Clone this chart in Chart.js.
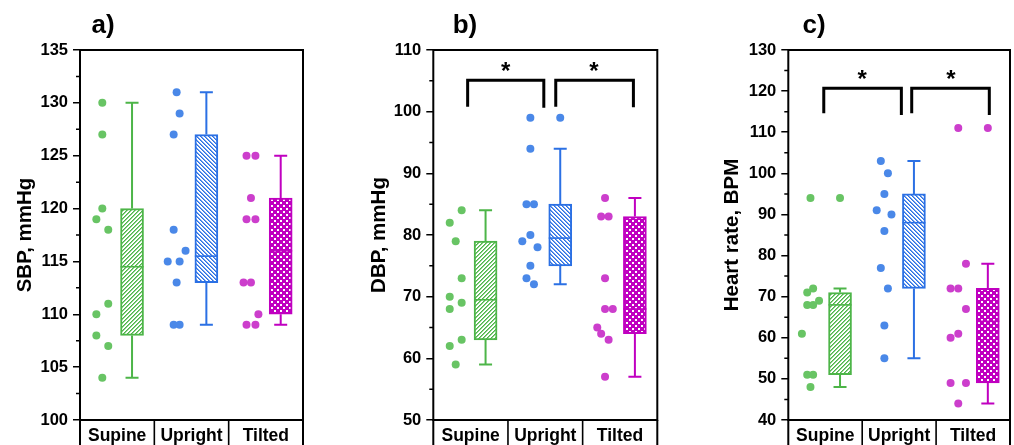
<!DOCTYPE html>
<html><head><meta charset="utf-8">
<script src="https://cdn.jsdelivr.net/npm/chart.js@4"></script>
<style>
html,body{margin:0;padding:0;background:#fff;overflow:hidden}
#wrap{position:relative;width:1014px;height:445px;background:#fff}
canvas{position:absolute;top:0}
</style></head><body>
<div id="wrap">
<canvas id="ca" width="340" height="445" style="left:0px;width:340px;height:445px"></canvas>
<canvas id="cb" width="340" height="445" style="left:340px;width:340px;height:445px"></canvas>
<canvas id="cc" width="334" height="445" style="left:680px;width:334px;height:445px"></canvas>
</div>
<script>
// ---------------- DATA ----------------
const categories = ['Supine', 'Upright', 'Tilted'];

// a) SBP, mmHg
const sbpSupine  = [130, 127, 120, 119, 118, 111, 110, 108, 107, 104];
const sbpUpright = [131, 129, 127, 118, 116, 115, 115, 113, 109, 109];
const sbpTilted  = [125, 125, 121, 119, 119, 113, 113, 110, 109, 109];
const sbpSupineJit  = [0, 0, 0, -2, 2, 2, -2, -2, 2, 0];
const sbpUprightJit = [0, 1, -1, -1, 3, -3, 1, 0, -1, 1];
const sbpTiltedJit  = [-1.5, 1.5, 0, -1.5, 1.5, -2.5, 0, 2.5, -1.5, 1.5];
const sbpLow    = [104, 109, 109];
const sbpQ1     = [108, 113, 110];
const sbpMedian = [114.5, 115.5, 116];
const sbpQ3     = [120, 127, 121];
const sbpHigh   = [130, 131, 125];
const sbpOutliers = [[], [], []];
const sbpTicks = [100, 135, 5];

// b) DBP, mmHg
const dbpSupine  = [84, 82, 79, 73, 70, 69, 68, 63, 62, 59];
const dbpUpright = [99, 94, 85, 85, 80, 79, 78, 75, 73, 72];
const dbpTilted  = [86, 83, 83, 73, 68, 68, 65, 64, 63, 57];
const dbpSupineJit  = [2, -2, 0, 2, -2, 2, -2, 2, -2, 0];
const dbpUprightJit = [0, 0, -1.3, 1.2, 0, -2.7, 2.4, 0, -1.3, 1.2];
const dbpTiltedJit  = [0, -1.3, 1.2, 0, 0, 2.6, -2.6, -1.3, 1.2, 0];
const dbpLow    = [59, 72, 57];
const dbpQ1     = [63, 75, 64];
const dbpMedian = [69.5, 79.5, 68];
const dbpQ3     = [79, 85, 83];
const dbpHigh   = [84, 94, 86];
const dbpOutliers = [[], [99], []];
const dbpTicks = [50, 110, 10];
// brackets: [xStart, xEnd, yTop, yLegStart, yLegEnd, xStar]
const dbpBrackets = [[0.96, 1.98, 105.1, 100.8, 100.65, 1.47], [2.14, 3.18, 105.1, 100.8, 100.7, 2.65]];

// c) Heart rate, BPM
const hrSupine  = [94, 72, 71, 69, 68, 68, 61, 51, 51, 48];
const hrUpright = [103, 100, 95, 91, 90, 86, 77, 72, 63, 55];
const hrTilted  = [111, 78, 72, 72, 67, 61, 60, 49, 49, 44];
const hrSupineJit  = [0, 0.9, -1.1, 2.9, -1.1, 0.9, -2.9, -1.1, 0.9, 0];
const hrUprightJit = [-1.2, 1.2, 0, -2.6, 2.4, 0, -1.2, 1.2, 0, 0];
const hrTiltedJit  = [0, 2.6, -2.6, 0, 2.6, 0, -2.6, -2.6, 2.6, 0];
const hrLow    = [48, 55, 44];
const hrQ1     = [51, 72, 49];
const hrMedian = [68, 88, 64];
const hrQ3     = [71, 95, 72];
const hrHigh   = [72, 103, 78];
const hrOutliers = [[94], [], [111]];
const hrTicks = [40, 130, 10];
const hrBrackets = [[0.98, 2.03, 120.7, 114.6, 114.2, 1.50], [2.17, 3.22, 120.7, 114.6, 114.2, 2.70]];

// ---------------- STYLE ----------------
const FONT = '"Liberation Sans", Arial, Helvetica, sans-serif';
const boxColors = ['rgb(77,181,72)', 'rgb(43,112,228)', 'rgb(192,0,192)'];
const dotColors = ['rgb(104,196,100)', 'rgb(74,136,232)', 'rgb(204,62,204)'];
const patternKinds = ['fwd', 'back', 'check'];
const PT_OFF = -0.2, BOX_OFF = 0.2, JIT = 0.04, BOX_W = 23;

function makePattern(ctx, kind, color) {
  const s = kind === 'check' ? 6 : 4;
  const c = document.createElement('canvas');
  c.width = s; c.height = s;
  const g = c.getContext('2d');
  g.fillStyle = '#fff'; g.fillRect(0, 0, s, s);
  g.fillStyle = color;
  if (kind === 'check') {
    g.fillRect(0, 0, s, s);
    g.fillStyle = '#fff';
    g.fillRect(1, 1, 2, 2);
    g.fillRect(4, 4, 2, 2);
  } else {
    for (let y = 0; y < s; y++) for (let x = 0; x < s; x++) {
      const d = kind === 'fwd' ? (x + y) % s : ((x - y) % s + s) % s;
      if (d === 0) { g.globalAlpha = 1; g.fillRect(x, y, 1, 1); }
      else if (d === 1) { g.globalAlpha = 0.65; g.fillRect(x, y, 1, 1); }
    }
  }
  return ctx.createPattern(c, 'repeat');
}

function makePanel(p) {
  const canvas = document.getElementById(p.id);
  const ctx0 = canvas.getContext('2d');
  const patterns = patternKinds.map((k, i) => makePattern(ctx0, k, boxColors[i]));
  const [yMin, yMax, step] = p.ticks;

  const datasets = [];
  datasets.push({
    type: 'bar',
    data: categories.map((c, i) => ({ x: i + 1 + BOX_OFF, y: [p.q1[i], p.q3[i]] })),
    backgroundColor: patterns,
    borderColor: boxColors,
    borderWidth: 2,
    borderSkipped: false,
    barThickness: BOX_W,
    order: 3
  });
  categories.forEach((c, i) => {
    datasets.push({
      type: 'scatter',
      data: p.groups[i].map((v, j) => ({ x: i + 1 + PT_OFF + p.jit[i][j] * JIT, y: v })),
      backgroundColor: dotColors[i],
      borderWidth: 0,
      pointRadius: 4,
      pointHoverRadius: 4,
      order: 1
    });
    datasets.push({
      type: 'scatter',
      data: p.outliers[i].map(v => ({ x: i + 1 + BOX_OFF, y: v })),
      backgroundColor: dotColors[i],
      borderWidth: 0,
      pointRadius: 4,
      pointHoverRadius: 4,
      order: 1
    });
  });

  const extras = {
    id: 'extras',
    afterDatasetsDraw(chart) {
      const ctx = chart.ctx, xs = chart.scales.x, ys = chart.scales.y;
      ctx.save();
      categories.forEach((c, i) => {
        const cx = xs.getPixelForValue(i + 1 + BOX_OFF);
        ctx.strokeStyle = boxColors[i];
        ctx.lineWidth = 1.6;
        ctx.beginPath();
        ctx.moveTo(cx - BOX_W / 2, ys.getPixelForValue(p.med[i]));
        ctx.lineTo(cx + BOX_W / 2, ys.getPixelForValue(p.med[i]));
        ctx.stroke();
        ctx.lineWidth = 2;
        ctx.beginPath();
        ctx.moveTo(cx, ys.getPixelForValue(p.q3[i]));
        ctx.lineTo(cx, ys.getPixelForValue(p.high[i]));
        ctx.moveTo(cx - 6.5, ys.getPixelForValue(p.high[i]));
        ctx.lineTo(cx + 6.5, ys.getPixelForValue(p.high[i]));
        ctx.moveTo(cx, ys.getPixelForValue(p.q1[i]));
        ctx.lineTo(cx, ys.getPixelForValue(p.low[i]));
        ctx.moveTo(cx - 6.5, ys.getPixelForValue(p.low[i]));
        ctx.lineTo(cx + 6.5, ys.getPixelForValue(p.low[i]));
        ctx.stroke();
      });
      ctx.restore();
    },
    afterDraw(chart) {
      const ctx = chart.ctx, xs = chart.scales.x, ys = chart.scales.y;
      const { left, right, top, bottom } = chart.chartArea;
      const H = chart.height;
      ctx.save();
      ctx.strokeStyle = '#000';
      ctx.lineWidth = 2;
      ctx.strokeRect(left, top, right - left, bottom - top);
      ctx.beginPath();
      ctx.moveTo(left, bottom); ctx.lineTo(left, H);
      ctx.moveTo(right, bottom); ctx.lineTo(right, H);
      ctx.stroke();
      ctx.lineWidth = 1.6;
      ctx.beginPath();
      [1.5, 2.5].forEach(v => {
        const x = xs.getPixelForValue(v);
        ctx.moveTo(x, bottom); ctx.lineTo(x, H);
      });
      ctx.stroke();
      // minor ticks
      ctx.lineWidth = 1.5;
      ctx.beginPath();
      for (let v = yMin + step / 2; v < yMax; v += step) {
        const y = ys.getPixelForValue(v);
        ctx.moveTo(left - 4, y); ctx.lineTo(left, y);
      }
      ctx.stroke();
      // category labels
      ctx.fillStyle = '#000';
      ctx.font = 'bold 17.5px ' + FONT;
      ctx.textAlign = 'center';
      ctx.textBaseline = 'alphabetic';
      categories.forEach((c, i) => ctx.fillText(c, xs.getPixelForValue(i + 1), 441));
      // brackets
      ctx.lineWidth = 3;
      ctx.lineJoin = 'miter';
      ctx.lineCap = 'butt';
      (p.brackets || []).forEach(b => {
        const x1 = xs.getPixelForValue(b[0]), x2 = xs.getPixelForValue(b[1]);
        const yt = ys.getPixelForValue(b[2]);
        ctx.beginPath();
        ctx.moveTo(x1, ys.getPixelForValue(b[3]));
        ctx.lineTo(x1, yt);
        ctx.lineTo(x2, yt);
        ctx.lineTo(x2, ys.getPixelForValue(b[4]));
        ctx.stroke();
        ctx.font = 'bold 24px ' + FONT;
        ctx.textAlign = 'center';
        ctx.textBaseline = 'alphabetic';
        ctx.fillText('*', xs.getPixelForValue(b[5]), yt - 1);
      });
      // panel letter
      ctx.font = 'bold 26px ' + FONT;
      ctx.textAlign = 'center';
      ctx.textBaseline = 'alphabetic';
      ctx.fillText(p.letter, p.letterX, 33);
      // y title
      ctx.translate(p.titleX, (top + bottom) / 2);
      ctx.rotate(-Math.PI / 2);
      ctx.font = 'bold 20.5px ' + FONT;
      ctx.textAlign = 'center';
      ctx.textBaseline = 'middle';
      ctx.fillText(p.yTitle, 0, 0);
      ctx.restore();
    }
  };

  return new Chart(canvas, {
    type: 'scatter',
    data: { datasets },
    options: {
      responsive: false,
      animation: false,
      devicePixelRatio: 1,
      events: [],
      layout: { padding: { left: 0, top: 50, right: p.canvasW - p.plotRight, bottom: 0 } },
      plugins: { legend: { display: false }, tooltip: { enabled: false }, title: { display: false } },
      scales: {
        x: {
          type: 'linear', min: 0.5, max: 3.5, offset: false,
          ticks: { display: false },
          grid: { display: false, offset: false },
          border: { display: false },
          afterFit: s => { s.height = 25; }
        },
        y: {
          type: 'linear', min: yMin, max: yMax,
          ticks: { stepSize: step, color: '#000', padding: 5, font: { family: FONT, size: 16.5, weight: 'bold' } },
          grid: { drawOnChartArea: false, drawTicks: true, tickLength: 7, color: '#000', lineWidth: 1.5 },
          border: { display: false },
          afterFit: s => { s.width = p.plotLeft; }
        }
      }
    },
    plugins: [extras]
  });
}

makePanel({
  id: 'ca', canvasW: 340, plotLeft: 80, plotRight: 303, letter: 'a)', letterX: 103,
  yTitle: 'SBP, mmHg', titleX: 25, ticks: sbpTicks,
  groups: [sbpSupine, sbpUpright, sbpTilted], jit: [sbpSupineJit, sbpUprightJit, sbpTiltedJit],
  low: sbpLow, q1: sbpQ1, med: sbpMedian, q3: sbpQ3, high: sbpHigh, outliers: sbpOutliers, brackets: []
});
makePanel({
  id: 'cb', canvasW: 340, plotLeft: 93.3, plotRight: 317.3, letter: 'b)', letterX: 125,
  yTitle: 'DBP, mmHg', titleX: 39, ticks: dbpTicks,
  groups: [dbpSupine, dbpUpright, dbpTilted], jit: [dbpSupineJit, dbpUprightJit, dbpTiltedJit],
  low: dbpLow, q1: dbpQ1, med: dbpMedian, q3: dbpQ3, high: dbpHigh, outliers: dbpOutliers, brackets: dbpBrackets
});
makePanel({
  id: 'cc', canvasW: 334, plotLeft: 108.3, plotRight: 331, letter: 'c)', letterX: 134,
  yTitle: 'Heart rate, BPM', titleX: 52, ticks: hrTicks,
  groups: [hrSupine, hrUpright, hrTilted], jit: [hrSupineJit, hrUprightJit, hrTiltedJit],
  low: hrLow, q1: hrQ1, med: hrMedian, q3: hrQ3, high: hrHigh, outliers: hrOutliers, brackets: hrBrackets
});
</script>
</body></html>
